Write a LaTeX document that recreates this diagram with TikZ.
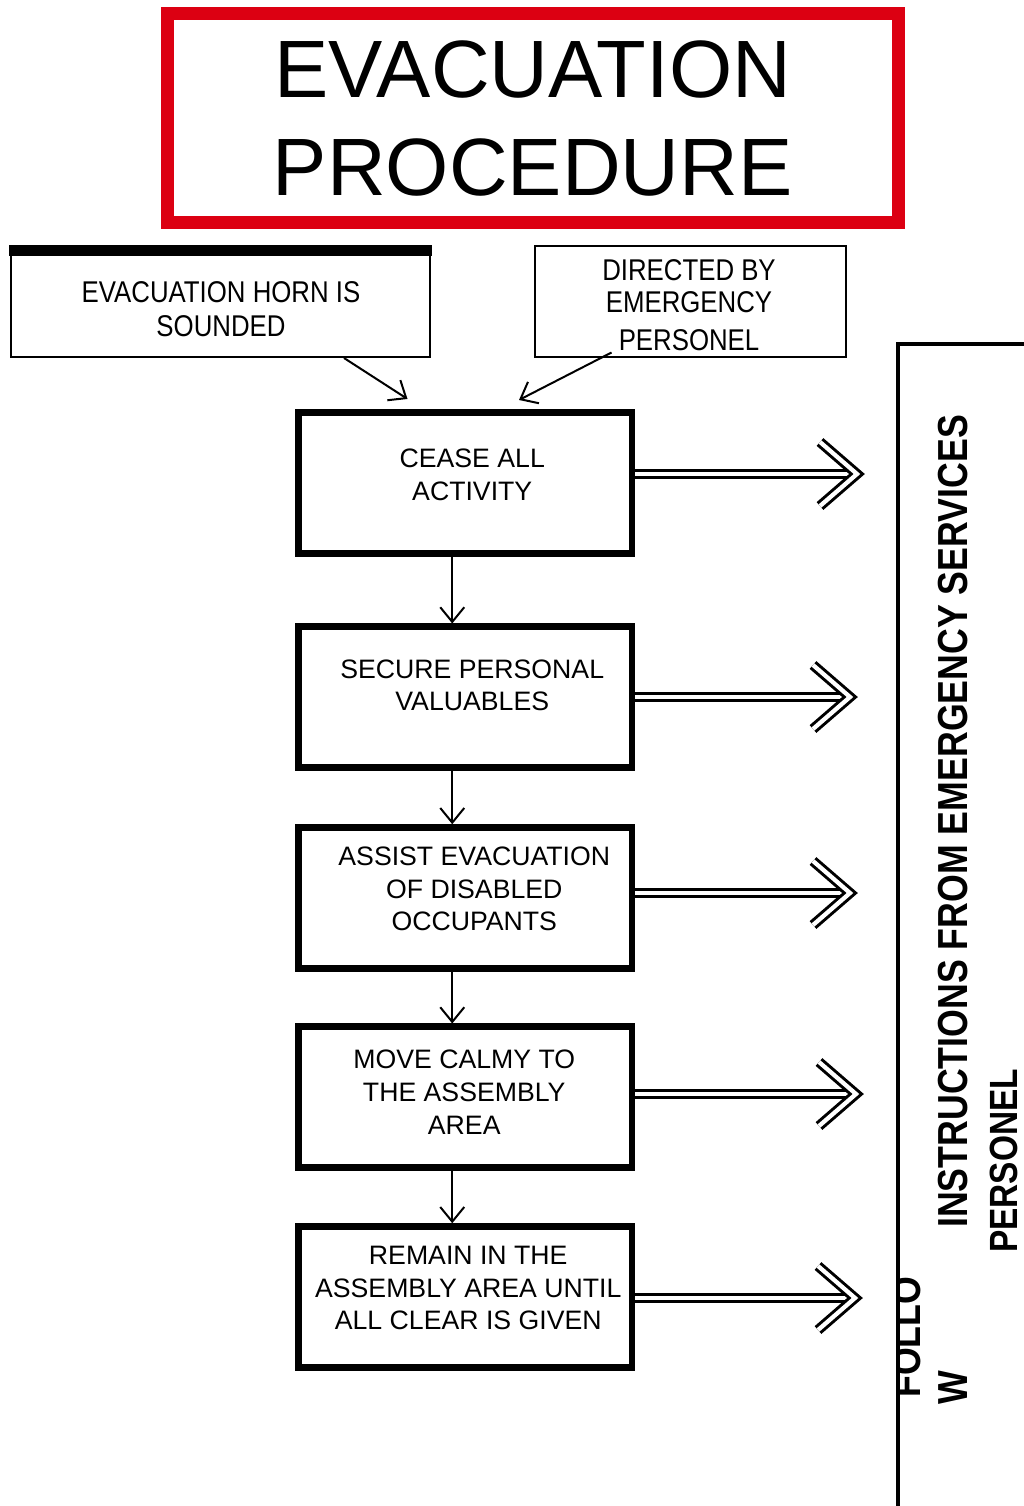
\documentclass[tikz,border=0pt]{standalone}
\usepackage{fontspec}
\setmainfont{Liberation Sans}
\usetikzlibrary{arrows.meta,calc}
\definecolor{evred}{RGB}{220,0,18}
\newcommand\cnd[1]{\scalebox{0.86}[1]{#1}}
\newcommand\sidecnd[1]{\scalebox{0.85}[1]{#1}}
\begin{document}
\begin{tikzpicture}[x=0.75pt,y=-0.75pt,
  mainbox/.style={draw, line width=4.9pt, minimum width=250.1pt, minimum height=105.75pt, inner sep=0pt},
  boxtext/.style={font=\fontsize{20pt}{24.5pt}\selectfont, align=center, inner sep=0pt},
  topbox/.style={draw, line width=1.5pt, minimum height=83.25pt, inner sep=0pt},
  toptext/.style={font=\fontsize{22.5pt}{24pt}\selectfont, align=center, inner sep=0pt},
  thinarrow/.style={line width=1.5pt, -{Straight Barb[length=11pt,width=18pt]}},
  dbl/.style={double, double distance=3.2pt, line width=2.25pt, line join=miter},
  sidetext/.style={font=\fontsize{31.5pt}{36pt}\selectfont\bfseries, rotate=90, anchor=base west, inner sep=0pt},
]
\useasboundingbox (0,0) rectangle (1024,1506);
\fill[white] (0,0) rectangle (1024,1506);

% title
\node[draw=evred, line width=9.75pt, minimum width=548.6pt, minimum height=157.1pt, inner sep=0pt,
      font=\fontsize{61pt}{73.5pt}\selectfont, align=center] (title) at (532.75,118.25) {EVACUATION\\PROCEDURE};

% top boxes
\node[topbox, minimum width=314.25pt] (hl) at (220.5,301.5) {};
\fill ($(hl.north west)+(-1,0)$) rectangle ($(hl.north east)+(1,11)$);
\node[toptext, font=\fontsize{22.5pt}{25.5pt}\selectfont] (hlt) at (221,309) {\cnd{EVACUATION HORN IS}\\\cnd{SOUNDED}};
\node[topbox, minimum width=233.25pt] (hr) at (690.5,301.5) {};
\node[toptext] (hrt) at (689,305) {\cnd{DIRECTED BY}\\\cnd{EMERGENCY}\\[4.5pt]\cnd{PERSONEL}};

% main boxes
\node[mainbox] (b1) at (465.25,482.75) {};
\node[mainbox] (b2) at (465.25,697.25) {};
\node[mainbox] (b3) at (465.25,898) {};
\node[mainbox] (b4) at (465.25,1097.25) {};
\node[mainbox] (b5) at (465.25,1297) {};

\node[boxtext] (t1) at ($(b1.center)+(7,-8)$) {CEASE ALL\\ACTIVITY};
\node[boxtext] (t2) at ($(b2.center)+(7,-12)$) {SECURE PERSONAL\\VALUABLES};
\node[boxtext] (t3) at ($(b3.center)+(9,-9)$) {ASSIST EVACUATION\\OF DISABLED\\OCCUPANTS};
\node[boxtext] (t4) at ($(b4.center)+(-1,-5)$) {MOVE CALMY TO\\THE ASSEMBLY\\AREA};
\node[boxtext] (t5) at ($(b5.center)+(3,-9)$) {REMAIN IN THE\\ASSEMBLY AREA UNTIL\\ALL CLEAR IS GIVEN};

% arrows from top boxes
\draw[thinarrow] ($(hl.south)+(123.5,0)$) -- ($(b1.north)+(-57.75,-10)$);
\draw[thinarrow] ($(hr.south)+(-79,-5.5)$) -- ($(b1.north)+(53.75,-9)$);

% vertical arrows
\draw[thinarrow] ($(b1.south)+(-13,0)$) -- ($(b2.north)+(-13,0)$);
\draw[thinarrow] ($(b2.south)+(-13,0)$) -- ($(b3.north)+(-13,0)$);
\draw[thinarrow] ($(b3.south)+(-13,0)$) -- ($(b4.north)+(-13,0)$);
\draw[thinarrow] ($(b4.south)+(-13,0)$) -- ($(b5.north)+(-13,0)$);

% double arrows to the right
\coordinate (e1) at (857,474);
\coordinate (e2) at (850,697);
\coordinate (e3) at (850,893);
\coordinate (e4) at (856,1094);
\coordinate (e5) at (855,1298);
\draw[dbl] ($(b1.east)+(0,-8.75)$) -- ($(e1)+(-4,0)$);
\draw[dbl] ($(b2.east)+(0,-0.25)$) -- ($(e2)+(-4,0)$);
\draw[dbl] ($(b3.east)+(0,-5)$) -- ($(e3)+(-4,0)$);
\draw[dbl] ($(b4.east)+(0,-3.25)$) -- ($(e4)+(-4,0)$);
\draw[dbl] ($(b5.east)+(0,1)$) -- ($(e5)+(-4,0)$);
\foreach \e in {e1,e2,e3,e4,e5}{
  \draw[dbl] ($(\e)+(-37,-32)$) -- (\e) -- ($(\e)+(-37,32)$);
}

% side panel
\begin{scope}
  \clip (898,1250) rectangle (1024,1420);
  \node[sidetext] (fol) at (920,1398) {\sidecnd{FOLLO}};
\end{scope}
\node[sidetext] (w) at (967,1405) {\sidecnd{W}};
\node[sidetext] (ins) at (967,1228) {\sidecnd{INSTRUCTIONS FROM EMERGENCY SERVICES}};
\node[sidetext, font=\fontsize{29.5pt}{36pt}\selectfont\bfseries] (per) at (1017,1253) {\scalebox{0.85}[1]{PERSONEL}};
\coordinate (pr) at (1024,344);
\coordinate (pc) at (898,344);
\coordinate (pb) at (898,1506);
\draw[line width=3pt] (pr) -- (pc) -- (pb);
\end{tikzpicture}
\end{document}
